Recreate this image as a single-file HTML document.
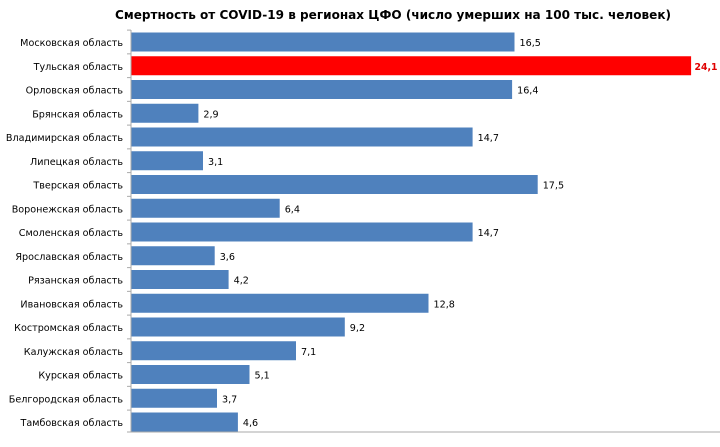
<!DOCTYPE html>
<html><head><meta charset="utf-8"><style>html,body{margin:0;padding:0;background:#fff}</style></head>
<body>
<svg width="720" height="442" xmlns="http://www.w3.org/2000/svg" font-family="'DejaVu Sans','Liberation Sans',sans-serif">
<rect width="720" height="442" fill="#fff"/>
<text x="393" y="19" text-anchor="middle" font-size="12.5" font-weight="bold" fill="#000" textLength="556" lengthAdjust="spacingAndGlyphs">Смертность от COVID-19 в регионах ЦФО (число умерших на 100 тыс. человек)</text>
<g fill="#4f81bd">
<rect x="131" y="32.5" width="383.5" height="19"/>
<rect x="131" y="56.25" width="560.1" height="19" fill="#ff0000"/>
<rect x="131" y="80" width="381.1" height="19"/>
<rect x="131" y="103.75" width="67.4" height="19"/>
<rect x="131" y="127.5" width="341.6" height="19"/>
<rect x="131" y="151.25" width="72" height="19"/>
<rect x="131" y="175" width="406.7" height="19"/>
<rect x="131" y="198.75" width="148.7" height="19"/>
<rect x="131" y="222.5" width="341.6" height="19"/>
<rect x="131" y="246.25" width="83.7" height="19"/>
<rect x="131" y="270" width="97.6" height="19"/>
<rect x="131" y="293.75" width="297.5" height="19"/>
<rect x="131" y="317.5" width="213.8" height="19"/>
<rect x="131" y="341.25" width="165" height="19"/>
<rect x="131" y="365" width="118.5" height="19"/>
<rect x="131" y="388.75" width="86" height="19"/>
<rect x="131" y="412.5" width="106.9" height="19"/>
</g>
<g font-size="9.6" fill="#000" text-anchor="end">
<text x="123" y="46">Московская область</text>
<text x="123" y="69.75">Тульская область</text>
<text x="123" y="93.5">Орловская область</text>
<text x="123" y="117.25">Брянская область</text>
<text x="123" y="141">Владимирская область</text>
<text x="123" y="164.75">Липецкая область</text>
<text x="123" y="188.5">Тверская область</text>
<text x="123" y="212.25">Воронежская область</text>
<text x="123" y="236">Смоленская область</text>
<text x="123" y="259.75">Ярославская область</text>
<text x="123" y="283.5">Рязанская область</text>
<text x="123" y="307.25">Ивановская область</text>
<text x="123" y="331">Костромская область</text>
<text x="123" y="354.75">Калужская область</text>
<text x="123" y="378.5">Курская область</text>
<text x="123" y="402.25">Белгородская область</text>
<text x="123" y="426">Тамбовская область</text>
</g>
<g font-size="9.6" fill="#000">
<text x="519.5" y="46">16,5</text>
<text x="694.5" y="69.75" fill="#e00000" font-weight="bold" font-size="9.3">24,1</text>
<text x="517.1" y="93.5">16,4</text>
<text x="203.4" y="117.25">2,9</text>
<text x="477.6" y="141">14,7</text>
<text x="208" y="164.75">3,1</text>
<text x="542.7" y="188.5">17,5</text>
<text x="284.7" y="212.25">6,4</text>
<text x="477.6" y="236">14,7</text>
<text x="219.7" y="259.75">3,6</text>
<text x="233.6" y="283.5">4,2</text>
<text x="433.5" y="307.25">12,8</text>
<text x="349.8" y="331">9,2</text>
<text x="301" y="354.75">7,1</text>
<text x="254.5" y="378.5">5,1</text>
<text x="222" y="402.25">3,7</text>
<text x="242.9" y="426">4,6</text>
</g>
<g stroke="#aaa" stroke-width="1">
<line x1="131" y1="30" x2="131" y2="432"/>
<line x1="131" y1="432" x2="720" y2="432"/>
<line x1="127" y1="30.1" x2="131" y2="30.1"/>
<line x1="127" y1="53.85" x2="131" y2="53.85"/>
<line x1="127" y1="77.6" x2="131" y2="77.6"/>
<line x1="127" y1="101.35" x2="131" y2="101.35"/>
<line x1="127" y1="125.1" x2="131" y2="125.1"/>
<line x1="127" y1="148.85" x2="131" y2="148.85"/>
<line x1="127" y1="172.6" x2="131" y2="172.6"/>
<line x1="127" y1="196.35" x2="131" y2="196.35"/>
<line x1="127" y1="220.1" x2="131" y2="220.1"/>
<line x1="127" y1="243.85" x2="131" y2="243.85"/>
<line x1="127" y1="267.6" x2="131" y2="267.6"/>
<line x1="127" y1="291.35" x2="131" y2="291.35"/>
<line x1="127" y1="315.1" x2="131" y2="315.1"/>
<line x1="127" y1="338.85" x2="131" y2="338.85"/>
<line x1="127" y1="362.6" x2="131" y2="362.6"/>
<line x1="127" y1="386.35" x2="131" y2="386.35"/>
<line x1="127" y1="410.1" x2="131" y2="410.1"/>
<line x1="127" y1="432" x2="131" y2="432"/>
</g>
</svg>
</body></html>
